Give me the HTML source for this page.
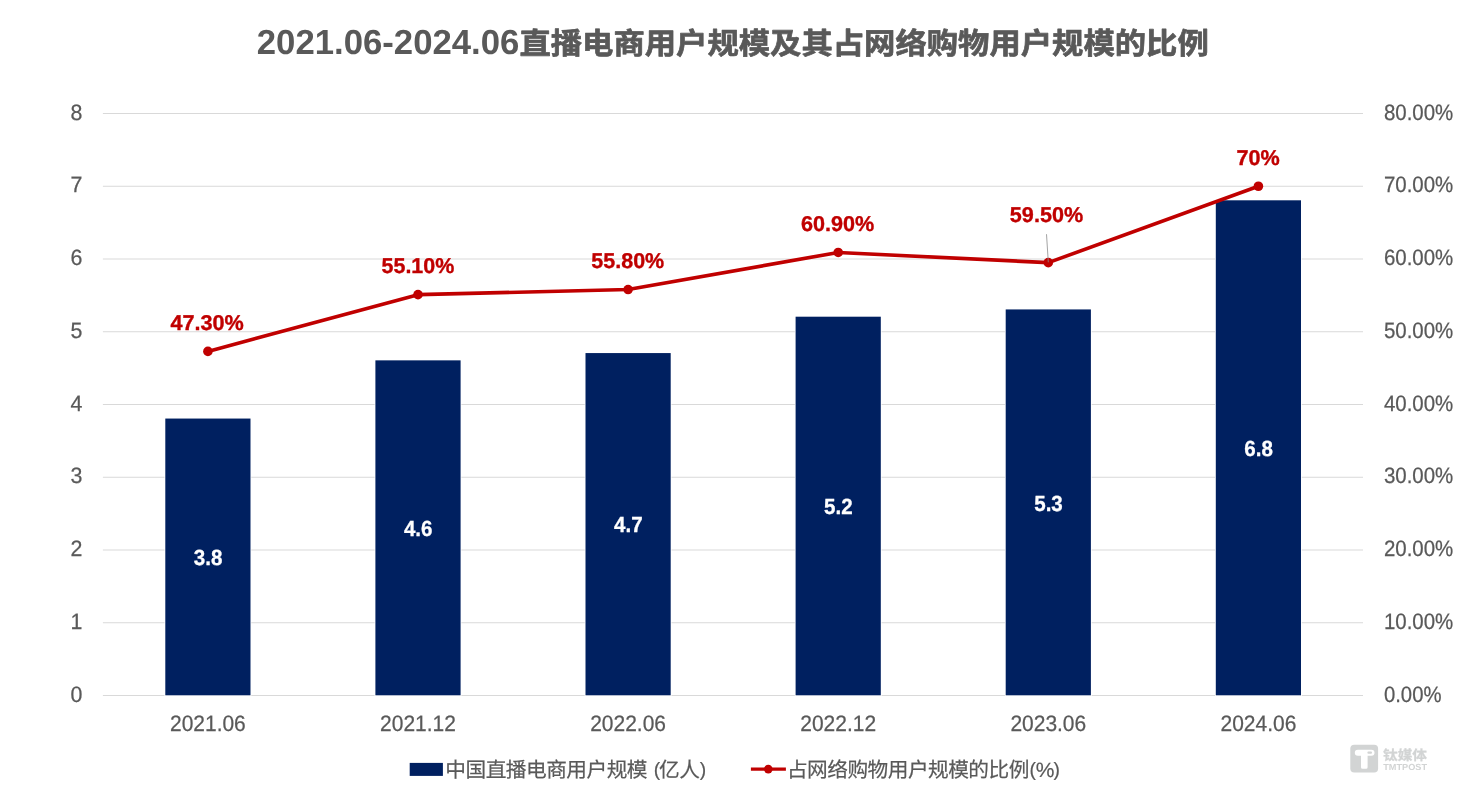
<!DOCTYPE html>
<html lang="zh-CN">
<head>
<meta charset="utf-8">
<title>2021.06-2024.06直播电商用户规模及其占网络购物用户规模的比例</title>
<style>
html,body{margin:0;padding:0;background:#ffffff;}
body{width:1466px;height:800px;overflow:hidden;position:relative;}
svg{position:absolute;left:0;top:0;display:block;}
text{font-family:"Liberation Sans","Noto Sans CJK SC",sans-serif;text-rendering:geometricPrecision;}
.cjk{font-family:"Liberation Sans","Noto Sans CJK SC",sans-serif;}
.ax{fill:#595959;font-size:22.2px;stroke:#595959;stroke-width:0.25px;}
.dl{fill:#c00000;font-size:21.4px;font-weight:bold;stroke:#c00000;stroke-width:0.35px;}
.bl{fill:#ffffff;font-size:21.9px;font-weight:bold;stroke:#ffffff;stroke-width:0.3px;}
.lg{fill:#595959;font-size:20.7px;stroke:#595959;stroke-width:0.2px;}
</style>
</head>
<body>
<svg width="1466" height="800" viewBox="0 0 1466 800">
<rect x="0" y="0" width="1466" height="800" fill="#ffffff"/>

<g id="title" fill="#595959" font-weight="bold">
<text x="256.8" y="53.9" font-size="34.9" textLength="262.6" lengthAdjust="spacingAndGlyphs">2021.06-2024.06</text>
<text class="cjk" x="519.4" y="53.7" font-size="29.8" textLength="689.4" lengthAdjust="spacingAndGlyphs" stroke="#595959" stroke-width="0.7" stroke-linejoin="round">直播电商用户规模及其占网络购物用户规模的比例</text>
</g>
<g id="grid" stroke="#d9d9d9" stroke-width="1.15" fill="none">
<line x1="102.9" y1="695.50" x2="1363.0" y2="695.50"/>
<line x1="102.9" y1="622.75" x2="1363.0" y2="622.75"/>
<line x1="102.9" y1="550.00" x2="1363.0" y2="550.00"/>
<line x1="102.9" y1="477.25" x2="1363.0" y2="477.25"/>
<line x1="102.9" y1="404.50" x2="1363.0" y2="404.50"/>
<line x1="102.9" y1="331.75" x2="1363.0" y2="331.75"/>
<line x1="102.9" y1="259.00" x2="1363.0" y2="259.00"/>
<line x1="102.9" y1="186.25" x2="1363.0" y2="186.25"/>
<line x1="102.9" y1="113.50" x2="1363.0" y2="113.50"/>
</g>
<g id="yleft" class="ax" text-anchor="end">
<text x="82.5" y="701.60" textLength="11.9" lengthAdjust="spacingAndGlyphs">0</text>
<text x="82.5" y="628.85" textLength="11.9" lengthAdjust="spacingAndGlyphs">1</text>
<text x="82.5" y="556.10" textLength="11.9" lengthAdjust="spacingAndGlyphs">2</text>
<text x="82.5" y="483.35" textLength="11.9" lengthAdjust="spacingAndGlyphs">3</text>
<text x="82.5" y="410.60" textLength="11.9" lengthAdjust="spacingAndGlyphs">4</text>
<text x="82.5" y="337.85" textLength="11.9" lengthAdjust="spacingAndGlyphs">5</text>
<text x="82.5" y="265.10" textLength="11.9" lengthAdjust="spacingAndGlyphs">6</text>
<text x="82.5" y="192.35" textLength="11.9" lengthAdjust="spacingAndGlyphs">7</text>
<text x="82.5" y="119.60" textLength="11.9" lengthAdjust="spacingAndGlyphs">8</text>
</g>
<g id="yright" class="ax">
<text x="1383.9" y="701.50" textLength="57.6" lengthAdjust="spacingAndGlyphs">0.00%</text>
<text x="1383.9" y="628.75" textLength="69.4" lengthAdjust="spacingAndGlyphs">10.00%</text>
<text x="1383.9" y="556.00" textLength="69.4" lengthAdjust="spacingAndGlyphs">20.00%</text>
<text x="1383.9" y="483.25" textLength="69.4" lengthAdjust="spacingAndGlyphs">30.00%</text>
<text x="1383.9" y="410.50" textLength="69.4" lengthAdjust="spacingAndGlyphs">40.00%</text>
<text x="1383.9" y="337.75" textLength="69.4" lengthAdjust="spacingAndGlyphs">50.00%</text>
<text x="1383.9" y="265.00" textLength="69.4" lengthAdjust="spacingAndGlyphs">60.00%</text>
<text x="1383.9" y="192.25" textLength="69.4" lengthAdjust="spacingAndGlyphs">70.00%</text>
<text x="1383.9" y="119.50" textLength="69.4" lengthAdjust="spacingAndGlyphs">80.00%</text>
</g>
<g id="bars" fill="#002060" stroke="#ffffff" stroke-width="1.6" paint-order="stroke">
<rect x="165.30" y="418.55" width="85.20" height="276.75"/>
<rect x="375.40" y="360.35" width="85.20" height="334.95"/>
<rect x="585.50" y="353.07" width="85.20" height="342.23"/>
<rect x="795.60" y="316.70" width="85.20" height="378.60"/>
<rect x="1005.70" y="309.43" width="85.20" height="385.88"/>
<rect x="1215.80" y="200.30" width="85.20" height="495.00"/>
</g>
<g id="barlabels" class="bl" text-anchor="middle">
<text x="208.10" y="565.07" textLength="28.6" lengthAdjust="spacingAndGlyphs">3.8</text>
<text x="418.20" y="535.97" textLength="28.6" lengthAdjust="spacingAndGlyphs">4.6</text>
<text x="628.30" y="532.34" textLength="28.6" lengthAdjust="spacingAndGlyphs">4.7</text>
<text x="838.40" y="514.15" textLength="28.6" lengthAdjust="spacingAndGlyphs">5.2</text>
<text x="1048.50" y="510.51" textLength="28.6" lengthAdjust="spacingAndGlyphs">5.3</text>
<text x="1258.60" y="455.95" textLength="28.6" lengthAdjust="spacingAndGlyphs">6.8</text>
</g>
<g id="xlabels" class="ax" text-anchor="middle">
<text x="207.90" y="731.1" textLength="75.8" lengthAdjust="spacingAndGlyphs">2021.06</text>
<text x="418.00" y="731.1" textLength="75.8" lengthAdjust="spacingAndGlyphs">2021.12</text>
<text x="628.10" y="731.1" textLength="75.8" lengthAdjust="spacingAndGlyphs">2022.06</text>
<text x="838.20" y="731.1" textLength="75.8" lengthAdjust="spacingAndGlyphs">2022.12</text>
<text x="1048.30" y="731.1" textLength="75.8" lengthAdjust="spacingAndGlyphs">2023.06</text>
<text x="1258.40" y="731.1" textLength="75.8" lengthAdjust="spacingAndGlyphs">2024.06</text>
</g>
<g id="line">
<polyline fill="none" stroke="#c00000" stroke-width="3.6" stroke-linejoin="round" stroke-linecap="round" points="207.90,351.39 418.00,294.65 628.10,289.56 838.20,252.45 1048.30,262.64 1258.40,186.25"/>
<circle cx="207.90" cy="351.39" r="4.8" fill="#c00000"/>
<circle cx="418.00" cy="294.65" r="4.8" fill="#c00000"/>
<circle cx="628.10" cy="289.56" r="4.8" fill="#c00000"/>
<circle cx="838.20" cy="252.45" r="4.8" fill="#c00000"/>
<circle cx="1048.30" cy="262.64" r="4.8" fill="#c00000"/>
<circle cx="1258.40" cy="186.25" r="4.8" fill="#c00000"/>
<line x1="1046.5" y1="234.2" x2="1048.3" y2="262.3" stroke="#8c8c8c" stroke-width="0.8"/>
</g>
<g id="datalabels" class="dl" text-anchor="middle">
<text x="207.10" y="329.60" textLength="73.4" lengthAdjust="spacingAndGlyphs">47.30%</text>
<text x="417.90" y="273.30" textLength="72.7" lengthAdjust="spacingAndGlyphs">55.10%</text>
<text x="627.80" y="268.30" textLength="72.9" lengthAdjust="spacingAndGlyphs">55.80%</text>
<text x="837.70" y="231.20" textLength="73.3" lengthAdjust="spacingAndGlyphs">60.90%</text>
<text x="1046.50" y="222.00" textLength="73.3" lengthAdjust="spacingAndGlyphs">59.50%</text>
<text x="1258.20" y="164.80" textLength="43.3" lengthAdjust="spacingAndGlyphs">70%</text>
</g>
<g id="legend">
<rect x="409.7" y="762.9" width="33.2" height="13" fill="#002060"/>
<text class="lg cjk" x="445.3" y="776.9" textLength="202.2" lengthAdjust="spacing">中国直播电商用户规模</text>
<text class="lg" x="653.8" y="775.5" style="font-size:19.3px">(</text>
<text class="lg cjk" x="659.1" y="776.9" textLength="40.87" lengthAdjust="spacing">亿人</text>
<text class="lg" x="699.7" y="775.5" style="font-size:19.3px">)</text>
<line x1="750.9" y1="769.1" x2="785.9" y2="769.1" stroke="#c00000" stroke-width="3.3"/>
<circle cx="768.3" cy="769.1" r="4.3" fill="#c00000"/>
<text class="lg cjk" x="786.9" y="776.9" textLength="242.5" lengthAdjust="spacing">占网络购物用户规模的比例</text>
<text class="lg" x="1029.5" y="775.5" style="font-size:19.3px">(</text>
<text class="lg" x="1035.8" y="776.6" textLength="18.7" lengthAdjust="spacingAndGlyphs">%</text>
<text class="lg" x="1053.5" y="775.5" style="font-size:19.3px">)</text>
</g>
<g id="watermark">
<rect x="1350.3" y="744.7" width="27.8" height="27.7" rx="4" ry="4" fill="#d2d4d4"/>
<path d="M1357.8 749.7 h13.7 a3 3 0 0 1 0 6 h-3.9 v11.6 a1.5 1.5 0 0 1 -1.5 1.5 h-3.6 a1.5 1.5 0 0 1 -1.5 -1.5 v-11.6 h-3.2 a3 3 0 0 1 0 -6 z" fill="#ffffff"/>
<rect x="1367.4" y="751.6" width="4.6" height="2.1" rx="1" fill="#d2d4d4"/>
<text class="cjk" x="1383.0" y="760.2" font-size="13.7" font-weight="bold" stroke="#d2d4d4" stroke-width="0.25" fill="#d2d4d4" textLength="44" lengthAdjust="spacingAndGlyphs">钛媒体</text>
<text x="1383.2" y="770.0" font-size="8.9" font-weight="bold" fill="#d2d4d4" textLength="43.8" lengthAdjust="spacingAndGlyphs">TMTPOST</text>
</g>
</svg>
</body>
</html>
